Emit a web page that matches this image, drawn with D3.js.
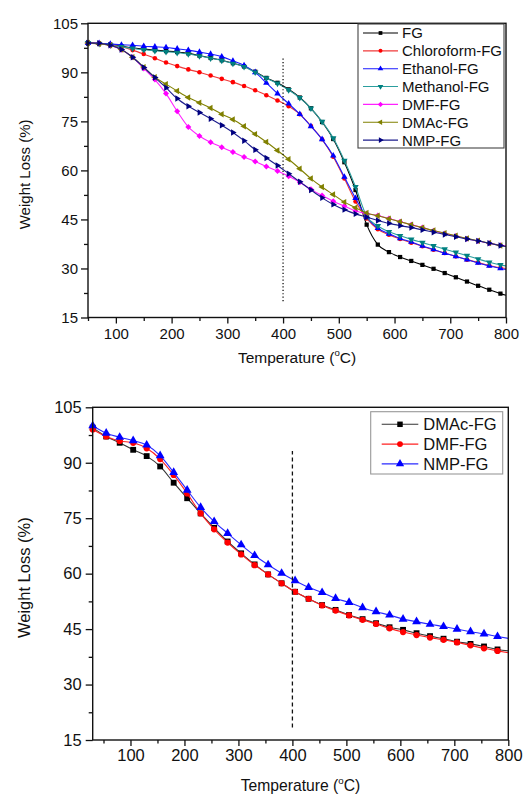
<!DOCTYPE html>
<html>
<head>
<meta charset="utf-8">
<script src="https://cdn.jsdelivr.net/npm/d3@7"></script>
<style>
  body { margin: 0; background: #fff; }
  text { font-family: Arial, "Liberation Sans", sans-serif; fill: #111; }
</style>
</head>
<body>
<div id="chart"></div>
<script>
// top panel : temperatures (°C) and weight values (%)
var topTemps = [50,70,90,110,130,150,170,190,210,230,250,270,290,310,330,350,370,390,410,430,450,470,490,510,530,550,570,590,610,630,650,670,690,710,730,750,770,790,800];
var fgTop        = [99.0,98.8,98.5,98.0,97.5,97.1,96.8,96.5,96.2,95.8,95.1,94.4,93.7,92.8,91.8,90.2,88.3,86.8,84.8,82.3,79.0,74.8,69.6,62.5,54.0,43.4,37.3,35.0,33.5,32.3,31.1,29.9,28.6,27.3,26.0,24.7,23.5,22.3,21.8];
var chloroformTop = [98.9,98.7,98.4,97.8,96.8,95.6,94.3,93.0,91.9,90.9,90.0,89.0,88.0,87.0,85.8,84.5,83.0,81.4,79.6,77.2,73.6,69.5,64.2,57.5,50.5,45.3,42.0,40.3,39.0,37.9,36.8,35.7,34.7,33.7,32.7,31.8,30.9,30.2,30.0];
var ethanolTop   = [98.9,98.9,98.7,98.4,98.3,98.0,97.8,97.6,97.2,96.8,96.2,95.6,94.8,93.5,92.1,90.0,86.8,83.5,80.4,77.2,73.5,69.5,64.5,58.0,51.5,45.7,42.3,40.6,39.2,38.1,36.9,35.8,34.7,33.7,32.7,31.7,30.8,30.0,29.7];
var methanolTop  = [99.0,98.7,98.3,97.8,97.3,96.9,96.6,96.3,96.0,95.6,95.0,94.3,93.6,92.7,91.7,90.0,88.2,86.6,84.6,82.2,79.0,74.9,69.9,63.0,55.0,46.0,43.0,41.2,40.0,38.9,37.9,36.9,35.9,34.9,33.9,32.9,31.9,31.1,30.8];
var dmfTop       = [99.0,98.8,98.2,96.9,94.6,91.2,87.8,83.5,78.1,73.3,70.5,68.6,67.1,65.6,64.1,62.7,61.2,59.8,58.2,56.4,54.2,52.3,50.6,49.1,47.6,46.8,46.2,45.3,44.3,43.4,42.5,41.5,40.7,39.9,39.1,38.4,37.7,37.1,36.9];
var dmacTop      = [99.0,98.7,98.3,97.0,94.6,91.6,88.5,86.4,84.3,82.3,80.7,79.1,77.2,75.6,73.5,71.1,68.7,66.1,63.4,60.5,57.5,54.9,52.6,50.3,48.6,47.0,46.1,45.2,44.3,43.4,42.5,41.6,40.8,40.0,39.2,38.5,37.8,37.0,36.7];
var nmpTop       = [99.0,98.9,98.3,97.0,94.6,91.5,88.4,85.3,82.0,79.6,77.7,75.8,73.8,71.6,69.1,66.3,63.8,61.5,59.0,56.5,54.0,51.6,49.6,48.0,46.7,45.7,44.7,43.8,43.1,42.5,41.8,41.1,40.4,39.7,39.0,38.4,37.7,37.0,36.7];

// bottom panel
var botTemps = [30,55,80,105,130,155,180,205,230,255,280,305,330,355,380,405,430,455,480,505,530,555,580,605,630,655,680,705,730,755,780,800];
var dmacBot = [99.5,97.1,95.4,93.5,91.8,89.0,84.6,80.4,76.3,72.4,68.7,65.5,62.5,59.8,57.4,55.1,53.2,51.5,50.2,48.8,47.7,46.6,45.5,44.8,43.9,43.1,42.4,41.6,41.0,40.3,39.5,39.1];
var dmfBot  = [99.0,97.1,95.9,95.4,93.9,91.0,86.7,81.7,76.3,72.0,68.4,65.2,62.3,59.8,57.4,55.1,53.2,51.4,50.0,48.7,47.5,46.4,45.2,44.2,43.4,42.7,42.1,41.4,40.6,39.8,39.1,38.6];
var nmpBot  = [100.0,98.0,96.9,96.0,94.8,91.9,87.4,82.6,77.9,74.1,70.9,67.8,64.9,62.4,60.1,58.1,56.3,54.9,53.3,52.2,50.8,49.7,48.8,47.7,47.0,46.3,45.7,45.0,44.3,43.7,43.0,42.5];

// ticks
var xMajor = [100,200,300,400,500,600,700,800];
var xMinor = [50,150,250,350,450,550,650,750];
var yMajor = [15,30,45,60,75,90,105];
var yMinor = [22.5,37.5,52.5,67.5,82.5,97.5];

var svg = d3.select("#chart").append("svg")
    .attr("width", 525)
    .attr("height", 796);

drawPanel({
  left: 88, right: 506, top: 23.3, bottom: 317.5,
  xDomain: [50, 800],
  font: 15, xTitleFont: 15.5, yTitleFont: 15,
  xPad: 5, yPad: 3,
  xTitleY: 368, yTitleX: 30,
  markerSize: 18,
  vline: { x: 400, y0: 20, y1: 94.4, dash: "1.2,2.2" },
  legend: { x0: 358, y0: 24, x1: 504, y1: 148, row0: 33, step: 17.85,
            lineX0: 363, lineX1: 398, textX: 402, font: 15, stroke: "#444", markerSize: 14 },
  temps: topTemps,
  series: [
    { name: "FG",            values: fgTop,         line: "#000000", fill: "#000000", shape: "square" },
    { name: "Chloroform-FG", values: chloroformTop, line: "#f03a3a", fill: "#ff0000", shape: "circle" },
    { name: "Ethanol-FG",    values: ethanolTop,    line: "#1a1aff", fill: "#0000ff", shape: "up" },
    { name: "Methanol-FG",   values: methanolTop,   line: "#2b9e9e", fill: "#008080", shape: "down" },
    { name: "DMF-FG",        values: dmfTop,        line: "#ff22ff", fill: "#ff00ff", shape: "diamond" },
    { name: "DMAc-FG",       values: dmacTop,       line: "#808000", fill: "#808000", shape: "left" },
    { name: "NMP-FG",        values: nmpTop,        line: "#1c1c8c", fill: "#000080", shape: "right" }
  ]
});

drawPanel({
  left: 92.7, right: 508.3, top: 407.3, bottom: 740,
  xDomain: [30, 800],
  font: 16.5, xTitleFont: 15.7, yTitleFont: 16.5,
  xPad: 3, yPad: 4,
  xTitleY: 796, yTitleX: 30,
  markerSize: 34,
  vline: { x: 400, y0: 18.4, y1: 93.2, dash: "4,3" },
  legend: { x0: 370.7, y0: 411.7, x1: 502.7, y1: 474, row0: 424.3, step: 19.8,
            lineX0: 381.7, lineX1: 418.3, textX: 423.3, font: 16.5, stroke: "#999", markerSize: 30 },
  temps: botTemps,
  series: [
    { name: "DMAc-FG", values: dmacBot, line: "#333333", fill: "#000000", shape: "square" },
    { name: "DMF-FG",  values: dmfBot,  line: "#ff2020", fill: "#ff0000", shape: "circle" },
    { name: "NMP-FG",  values: nmpBot,  line: "#2a2aff", fill: "#0000ff", shape: "up" }
  ]
});

//画标记
function markerPath(shape, size) {
  var type = d3.symbolSquare;
  if (shape == "circle") type = d3.symbolCircle;
  if (shape == "up" || shape == "down" || shape == "left" || shape == "right") type = d3.symbolTriangle;
  return d3.symbol().type(type).size(shape == "circle" ? size * 0.9 : size)();
}

function markerRotate(shape) {
  if (shape == "down") return 180;
  if (shape == "left") return -90;
  if (shape == "right") return 90;
  if (shape == "diamond") return 45;
  return 0;
}

function drawPanel(cfg) {
  var x = d3.scaleLinear().domain(cfg.xDomain).range([cfg.left, cfg.right]);
  var y = d3.scaleLinear().domain([15, 105]).range([cfg.bottom, cfg.top]);
  var g = svg.append("g");

  // curves
  cfg.series.forEach(function(s) {
    var pts = cfg.temps.map(function(t, i) { return [t, s.values[i]]; });
    var line = d3.line()
      .x(function(d) { return x(d[0]); })
      .y(function(d) { return y(d[1]); })
      .curve(d3.curveMonotoneX);

    g.append("path")
      .attr("d", line(pts))
      .attr("fill", "none")
      .attr("stroke", s.line)
      .attr("stroke-width", 1.1);

    g.selectAll(null)
      .data(pts.filter(function(d) { return d[0] < 800; }))
      .enter()
        .append("path")
        .attr("d", markerPath(s.shape, cfg.markerSize))
        .attr("transform", function(d) {
          return "translate(" + x(d[0]) + "," + y(d[1]) + ") rotate(" + markerRotate(s.shape) + ")";
        })
        .attr("fill", s.fill);
  });

  // 400 °C reference line
  g.append("line")
    .attr("x1", x(cfg.vline.x)).attr("x2", x(cfg.vline.x))
    .attr("y1", y(cfg.vline.y0)).attr("y2", y(cfg.vline.y1))
    .attr("stroke", "#111")
    .attr("stroke-width", 1.3)
    .attr("stroke-dasharray", cfg.vline.dash);

  // frame
  g.append("rect")
    .attr("x", cfg.left).attr("y", cfg.top)
    .attr("width", cfg.right - cfg.left)
    .attr("height", cfg.bottom - cfg.top)
    .attr("fill", "none")
    .attr("stroke", "#111")
    .attr("stroke-width", 1.4);

  // axes
  var xAxis = g.append("g").attr("transform", "translate(0," + cfg.bottom + ")")
    .call(d3.axisBottom(x).tickValues(xMajor).tickSize(6).tickPadding(cfg.xPad).tickSizeOuter(0));
  var xAxisMinor = g.append("g").attr("transform", "translate(0," + cfg.bottom + ")")
    .call(d3.axisBottom(x).tickValues(xMinor.filter(function(v) { return v >= cfg.xDomain[0]; }))
      .tickSize(3.5).tickFormat("").tickSizeOuter(0));
  var yAxis = g.append("g").attr("transform", "translate(" + cfg.left + ",0)")
    .call(d3.axisLeft(y).tickValues(yMajor).tickSize(7).tickPadding(cfg.yPad).tickSizeOuter(0));
  var yAxisMinor = g.append("g").attr("transform", "translate(" + cfg.left + ",0)")
    .call(d3.axisLeft(y).tickValues(yMinor).tickSize(4).tickFormat("").tickSizeOuter(0));

  [xAxis, xAxisMinor, yAxis, yAxisMinor].forEach(function(a) {
    a.select(".domain").remove();
    a.selectAll("line").attr("stroke", "#111").attr("stroke-width", 1.3);
    a.selectAll("text")
      .attr("font-size", cfg.font)
      .attr("font-family", "Arial, 'Liberation Sans', sans-serif")
      .attr("fill", "#111");
  });

  // titles
  var xt = g.append("text")
    .attr("x", (cfg.left + cfg.right) / 2)
    .attr("y", cfg.xTitleY - 5)
    .attr("text-anchor", "middle")
    .attr("font-size", cfg.xTitleFont);
  xt.append("tspan").text("Temperature (");
  xt.append("tspan").text("o").attr("font-size", cfg.xTitleFont * 0.62).attr("dy", -cfg.xTitleFont * 0.42);
  xt.append("tspan").text("C)").attr("dy", cfg.xTitleFont * 0.42);

  g.append("text")
    .attr("transform", "translate(" + cfg.yTitleX + "," + ((cfg.top + cfg.bottom) / 2 + 4) + ") rotate(-90)")
    .attr("text-anchor", "middle")
    .attr("font-size", cfg.yTitleFont)
    .text("Weight Loss (%)");

  // legend
  var lg = cfg.legend;
  g.append("rect")
    .attr("x", lg.x0).attr("y", lg.y0)
    .attr("width", lg.x1 - lg.x0).attr("height", lg.y1 - lg.y0)
    .attr("fill", "#fff")
    .attr("stroke", lg.stroke)
    .attr("stroke-width", 1.1);

  var items = g.selectAll("g.legend-item")
    .data(cfg.series)
    .enter()
      .append("g")
      .attr("class", "legend-item")
      .attr("transform", function(d, i) { return "translate(0," + (lg.row0 + i * lg.step) + ")"; });

  items.append("line")
    .attr("x1", lg.lineX0).attr("x2", lg.lineX1)
    .attr("stroke", function(d) { return d.line; })
    .attr("stroke-width", 1.1);

  items.append("path")
    .attr("d", function(d) { return markerPath(d.shape, lg.markerSize); })
    .attr("transform", function(d) {
      return "translate(" + ((lg.lineX0 + lg.lineX1) / 2) + ",0) rotate(" + markerRotate(d.shape) + ")";
    })
    .attr("fill", function(d) { return d.fill; });

  items.append("text")
    .attr("x", lg.textX)
    .attr("y", lg.font * 0.36)
    .attr("font-size", lg.font)
    .text(function(d) { return d.name; });
}
</script>
</body>
</html>
